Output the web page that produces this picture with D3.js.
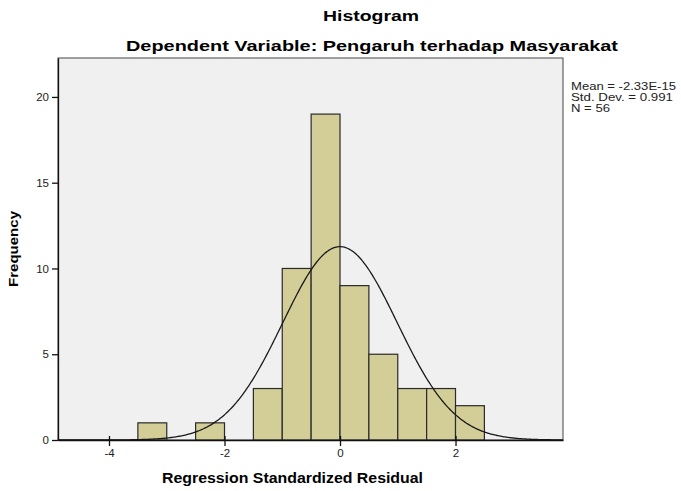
<!DOCTYPE html>
<html>
<head>
<meta charset="utf-8">
<script src="https://cdn.jsdelivr.net/npm/d3@7"></script>
<style>
  body { margin: 0; background: #fff; }
  svg { font-family: "Liberation Sans", Arial, sans-serif; }
</style>
</head>
<body>
<svg id="chart"></svg>
<script>
const WIDTH = 681;
const HEIGHT = 491;

// histogram bins (lower edge, width 0.5) and counts
const binStarts = [-3.5, -2.5, -1.5, -1, -0.5, 0, 0.5, 1, 1.5, 2];
const counts = [1, 1, 3, 10, 19, 9, 5, 3, 3, 2];
const BIN_W = 0.5;
const xTicks = [-4, -2, 0, 2];
const yTicks = [0, 5, 10, 15, 20];
const stats = { mean: -2.33e-15, sd: 0.991, n: 56 };
const statLines = ["Mean = -2.33E-15", "Std. Dev. = 0.991", "N = 56"];
const statWidths = [105, 102, 39];

const plot = { left: 58, right: 563, top: 58, bottom: 440 };

const svg = d3.select("#chart")
  .attr("width", WIDTH)
  .attr("height", HEIGHT);

const x = d3.scaleLinear().domain([-4.883, 3.861]).range([plot.left, plot.right]);
const y = d3.scaleLinear().domain([0, 22.27]).range([plot.bottom, plot.top]);

// plot background
svg.append("rect")
  .attr("x", plot.left).attr("y", plot.top)
  .attr("width", plot.right - plot.left)
  .attr("height", plot.bottom - plot.top)
  .attr("fill", "#f0f0f0")
  .attr("stroke", "#444")
  .attr("stroke-width", 1);

// bars
svg.append("g").selectAll("rect")
  .data(binStarts.map((b, i) => ({ b, c: counts[i] })))
  .join("rect")
  .attr("x", d => x(d.b))
  .attr("y", d => y(d.c))
  .attr("width", d => x(d.b + BIN_W) - x(d.b))
  .attr("height", d => y(0) - y(d.c))
  .attr("fill", "#d3ce98")
  .attr("stroke", "#2a2a2a")
  .attr("stroke-width", 1.2);

// normal curve from the stated mean / sd / N
const xs = d3.range(x.domain()[0], x.domain()[1] + 0.001, 0.02);
const normal = v => stats.n * BIN_W / (stats.sd * Math.sqrt(2 * Math.PI)) *
  Math.exp(-0.5 * Math.pow((v - stats.mean) / stats.sd, 2));
svg.append("path")
  .datum(xs)
  .attr("fill", "none")
  .attr("stroke", "#1a1a1a")
  .attr("stroke-width", 1.3)
  .attr("d", d3.line().x(d => x(d)).y(d => y(normal(d))));

// axes
const fmt = d => String(d); // plain hyphen minus like SPSS
const xAxis = svg.append("g")
  .attr("transform", `translate(0,${plot.bottom})`)
  .call(d3.axisBottom(x).tickValues(xTicks).tickFormat(fmt).tickSize(6).tickPadding(3).tickSizeOuter(0));
const yAxis = svg.append("g")
  .attr("transform", `translate(${plot.left},0)`)
  .call(d3.axisLeft(y).tickValues(yTicks).tickFormat(fmt).tickSize(6).tickPadding(3).tickSizeOuter(0));
[xAxis, yAxis].forEach(a => {
  a.select(".domain").attr("stroke", "#111").attr("stroke-width", 1.3);
  a.selectAll(".tick line").attr("stroke", "#111").attr("stroke-width", 1.3);
  a.selectAll("text").attr("font-size", 11.5).attr("fill", "#222")
    .attr("font-family", "'Liberation Sans', Arial, sans-serif");
});
// x ticks cross up into plot slightly like SPSS
xAxis.selectAll(".tick line").attr("y1", -4);

// titles (reference text is horizontally stretched)
svg.append("text")
  .attr("x", 323).attr("y", 21)
  .attr("font-size", 14.5).attr("font-weight", "bold")
  .attr("textLength", 96).attr("lengthAdjust", "spacingAndGlyphs")
  .text("Histogram");
svg.append("text")
  .attr("x", 126).attr("y", 51)
  .attr("font-size", 15).attr("font-weight", "bold")
  .attr("textLength", 492).attr("lengthAdjust", "spacingAndGlyphs")
  .text("Dependent Variable: Pengaruh terhadap Masyarakat");

svg.append("text")
  .attr("x", 162).attr("y", 483)
  .attr("font-size", 14).attr("font-weight", "bold")
  .attr("textLength", 261).attr("lengthAdjust", "spacingAndGlyphs")
  .text("Regression Standardized Residual");

svg.append("text")
  .attr("transform", "translate(18,287) rotate(-90)")
  .attr("font-size", 13.5).attr("font-weight", "bold")
  .attr("textLength", 76).attr("lengthAdjust", "spacingAndGlyphs")
  .text("Frequency");

// stats box text
svg.append("g").selectAll("text")
  .data(statLines)
  .join("text")
  .attr("x", 571)
  .attr("y", (d, i) => 90 + i * 11)
  .attr("font-size", 11)
  .attr("fill", "#222")
  .attr("textLength", (d, i) => statWidths[i])
  .attr("lengthAdjust", "spacingAndGlyphs")
  .text(d => d);
</script>
</body>
</html>
